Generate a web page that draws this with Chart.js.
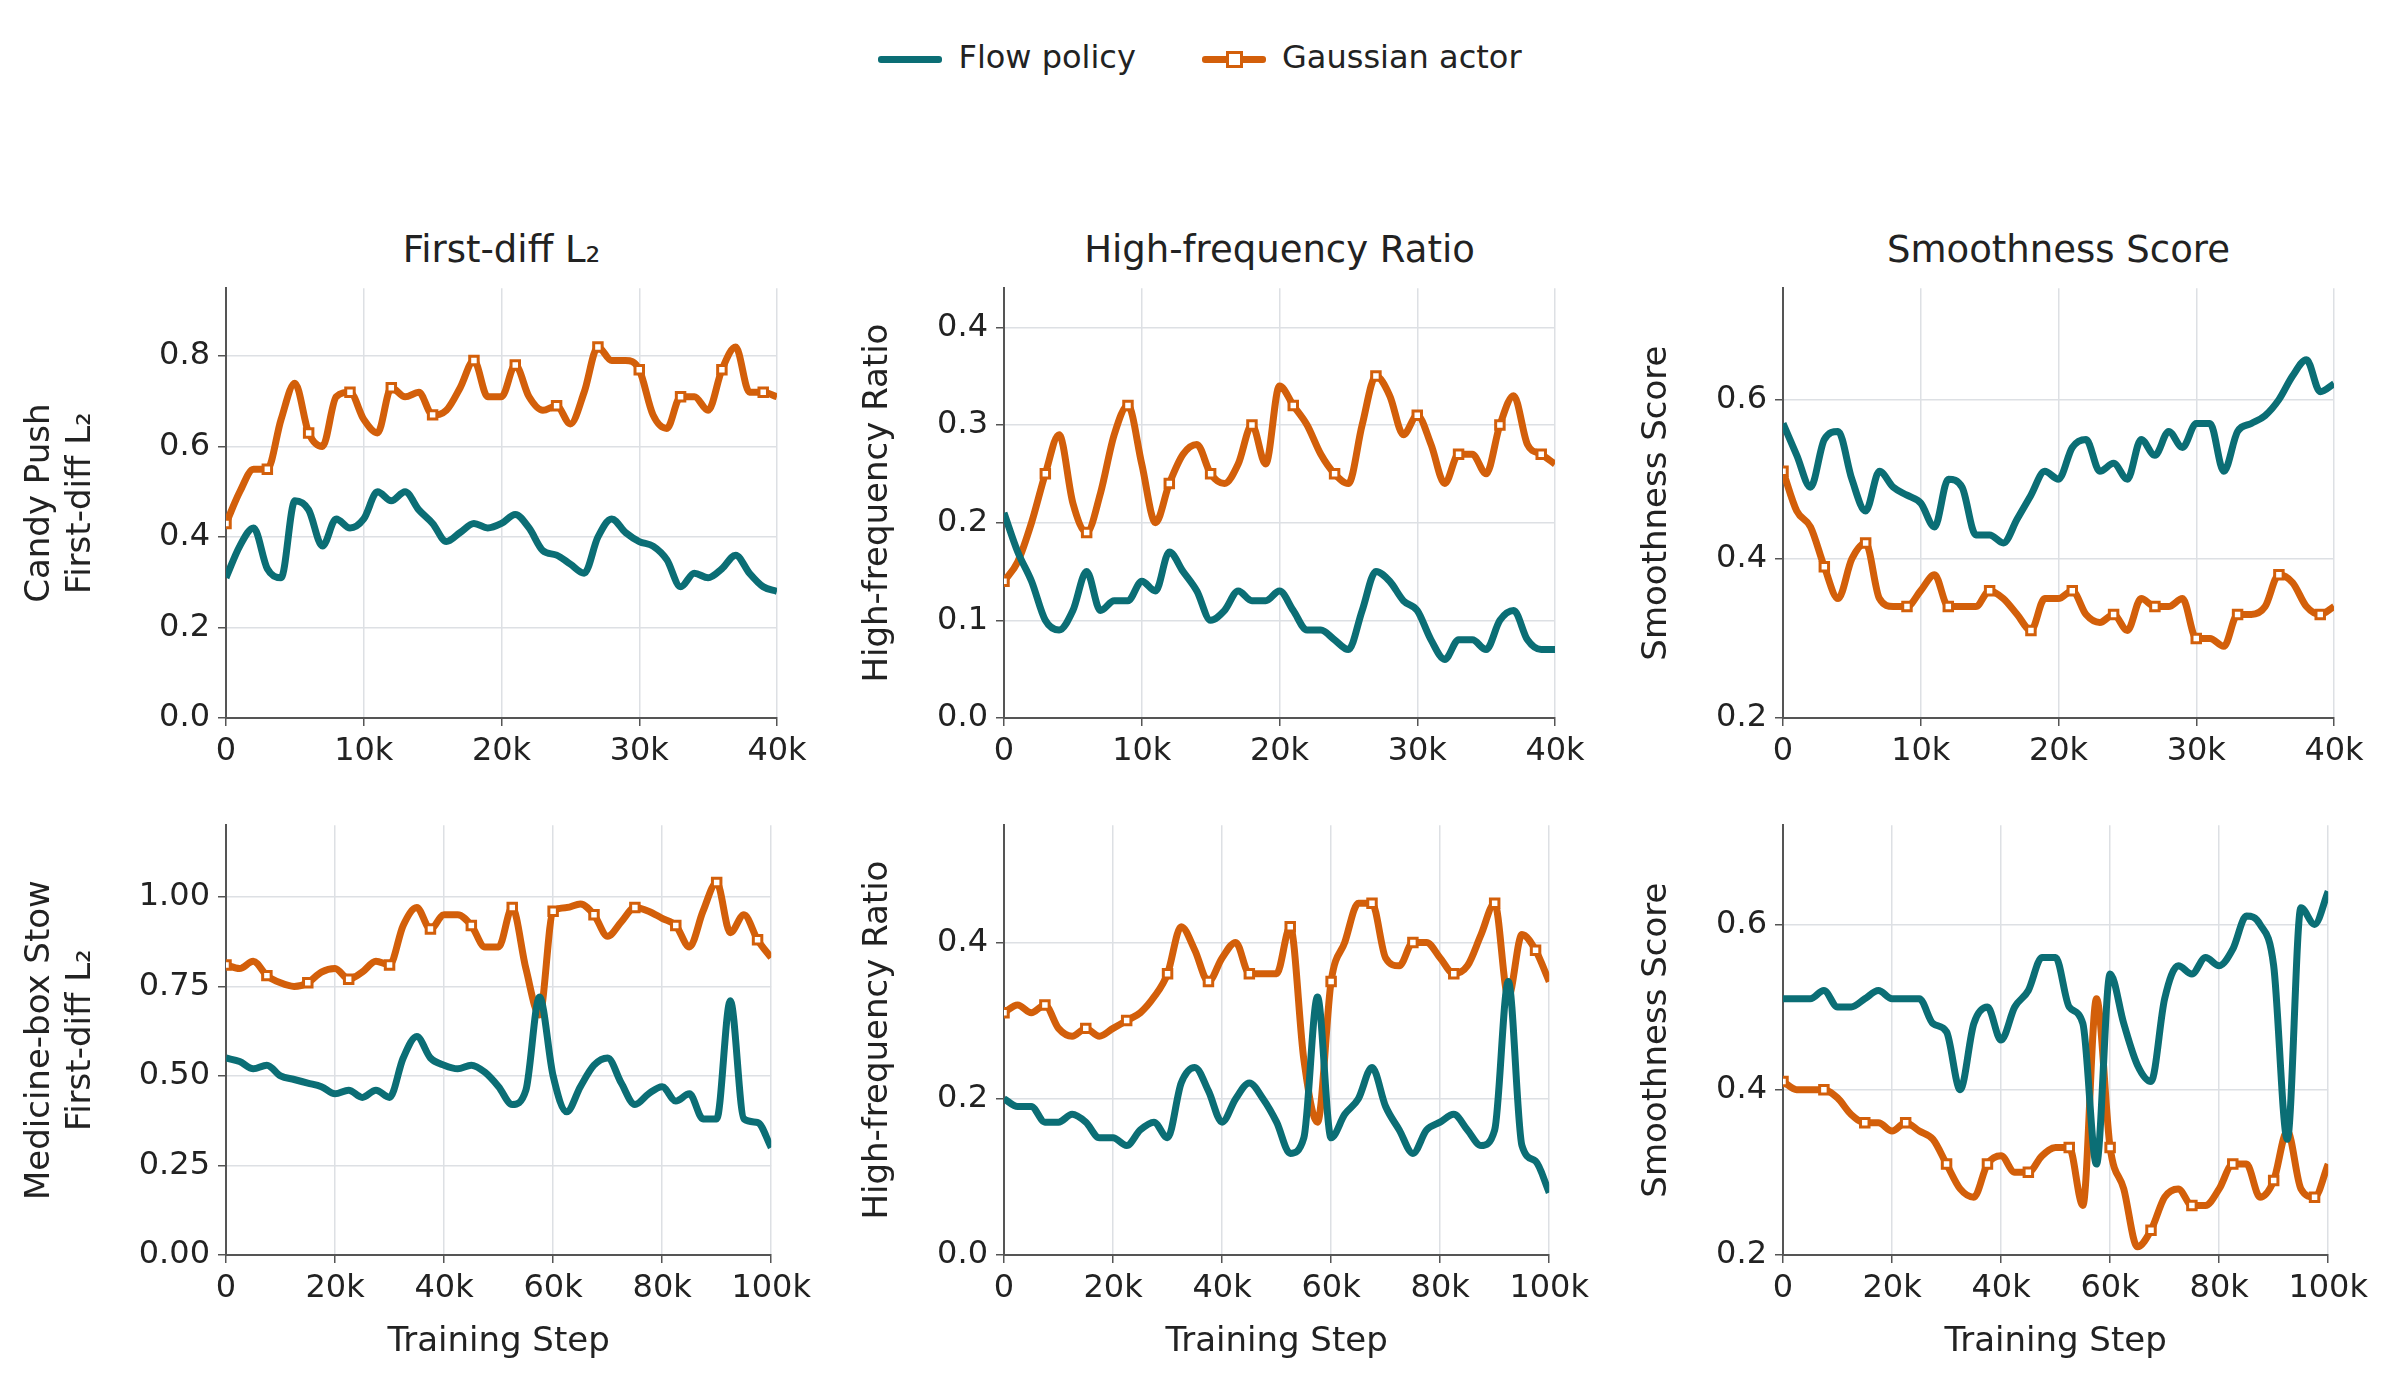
<!DOCTYPE html>
<html><head><meta charset="utf-8">
<script src="https://cdn.jsdelivr.net/npm/chart.js@4"></script>
<style>
body{margin:0;background:#fff;width:2400px;height:1388px;position:relative;font-family:"DejaVu Sans",sans-serif;color:#222}
.box{position:absolute}
.ttl{position:absolute;font-size:37px;text-align:center;width:560px}
#legend{position:absolute;top:36px;left:0;width:2400px;text-align:center;font-size:32px}
.li{display:inline-block;margin:0 28px;vertical-align:middle}
.sw{display:inline-block;width:64px;height:7px;vertical-align:middle;margin-right:16px;position:relative;border-radius:3px}
</style></head><body>
<div id="legend">
<span class="li"><span class="sw" style="background:#0b6e75"></span>Flow policy</span>
<span class="li"><span class="sw" style="background:#d35f0a"><span style="position:absolute;left:24px;top:-5px;width:11px;height:11px;background:#fff;border:3px solid #d35f0a"></span></span>Gaussian actor</span>
</div>
<script>
const stepsTop = Array.from({length:41},(v,i)=>i*1000);
const stepsBot = Array.from({length:41},(v,i)=>i*2500);

const candyL2Flow = [0.31,0.38,0.42,0.33,0.31,0.48,0.46,0.38,0.44,0.42,0.44,0.50,0.48,0.50,0.46,0.43,0.39,0.41,0.43,0.42,0.43,0.45,0.42,0.37,0.36,0.34,0.32,0.40,0.44,0.41,0.39,0.38,0.35,0.29,0.32,0.31,0.33,0.36,0.32,0.29,0.28];
const candyL2Gauss = [0.43,0.50,0.55,0.55,0.66,0.74,0.63,0.60,0.71,0.72,0.66,0.63,0.73,0.71,0.72,0.67,0.68,0.73,0.79,0.71,0.71,0.78,0.71,0.68,0.69,0.65,0.72,0.82,0.79,0.79,0.77,0.67,0.64,0.71,0.71,0.68,0.77,0.82,0.72,0.72,0.71];
const candyHFFlow = [0.21,0.17,0.14,0.10,0.09,0.11,0.15,0.11,0.12,0.12,0.14,0.13,0.17,0.15,0.13,0.10,0.11,0.13,0.12,0.12,0.13,0.11,0.09,0.09,0.08,0.07,0.11,0.15,0.14,0.12,0.11,0.08,0.06,0.08,0.08,0.07,0.10,0.11,0.08,0.07,0.07];
const candyHFGauss = [0.14,0.16,0.20,0.25,0.29,0.22,0.19,0.23,0.29,0.32,0.26,0.20,0.24,0.27,0.28,0.25,0.24,0.26,0.30,0.26,0.34,0.32,0.30,0.27,0.25,0.24,0.30,0.35,0.33,0.29,0.31,0.28,0.24,0.27,0.27,0.25,0.30,0.33,0.28,0.27,0.26];
const candySmFlow = [0.57,0.53,0.49,0.55,0.56,0.50,0.46,0.51,0.49,0.48,0.47,0.44,0.50,0.49,0.43,0.43,0.42,0.45,0.48,0.51,0.50,0.54,0.55,0.51,0.52,0.50,0.55,0.53,0.56,0.54,0.57,0.57,0.51,0.56,0.57,0.58,0.60,0.63,0.65,0.61,0.62];
const candySmGauss = [0.51,0.46,0.44,0.39,0.35,0.40,0.42,0.35,0.34,0.34,0.36,0.38,0.34,0.34,0.34,0.36,0.35,0.33,0.31,0.35,0.35,0.36,0.33,0.32,0.33,0.31,0.35,0.34,0.34,0.35,0.30,0.30,0.29,0.33,0.33,0.34,0.38,0.37,0.34,0.33,0.34];

const medL2Flow = [0.55,0.54,0.52,0.53,0.50,0.49,0.48,0.47,0.45,0.46,0.44,0.46,0.44,0.55,0.61,0.55,0.53,0.52,0.53,0.51,0.47,0.42,0.46,0.72,0.50,0.40,0.47,0.53,0.55,0.48,0.42,0.45,0.47,0.43,0.45,0.38,0.38,0.71,0.38,0.37,0.30];
const medL2Gauss = [0.81,0.80,0.82,0.78,0.76,0.75,0.76,0.79,0.80,0.77,0.79,0.82,0.81,0.92,0.97,0.91,0.95,0.95,0.92,0.86,0.86,0.97,0.80,0.67,0.96,0.97,0.98,0.95,0.89,0.93,0.97,0.96,0.94,0.92,0.86,0.96,1.04,0.90,0.95,0.88,0.83];
const medHFFlow = [0.20,0.19,0.19,0.17,0.17,0.18,0.17,0.15,0.15,0.14,0.16,0.17,0.15,0.22,0.24,0.21,0.17,0.20,0.22,0.20,0.17,0.13,0.15,0.33,0.15,0.18,0.20,0.24,0.19,0.16,0.13,0.16,0.17,0.18,0.16,0.14,0.16,0.35,0.14,0.12,0.08];
const medHFGauss = [0.31,0.32,0.31,0.32,0.29,0.28,0.29,0.28,0.29,0.30,0.31,0.33,0.36,0.42,0.39,0.35,0.38,0.40,0.36,0.36,0.36,0.42,0.25,0.17,0.35,0.40,0.45,0.45,0.38,0.37,0.40,0.40,0.38,0.36,0.37,0.41,0.45,0.33,0.41,0.39,0.35];
const medSmFlow = [0.51,0.51,0.51,0.52,0.50,0.50,0.51,0.52,0.51,0.51,0.51,0.48,0.47,0.40,0.48,0.50,0.46,0.50,0.52,0.56,0.56,0.50,0.48,0.31,0.54,0.48,0.43,0.41,0.51,0.55,0.54,0.56,0.55,0.57,0.61,0.60,0.55,0.34,0.62,0.60,0.64];
const medSmGauss = [0.41,0.40,0.40,0.40,0.39,0.37,0.36,0.36,0.35,0.36,0.35,0.34,0.31,0.28,0.27,0.31,0.32,0.30,0.30,0.32,0.33,0.33,0.26,0.51,0.33,0.28,0.21,0.23,0.27,0.28,0.26,0.26,0.28,0.31,0.31,0.27,0.29,0.35,0.28,0.27,0.31];

const TEAL = '#0b6e75', ORANGE = '#d35f0a';
const colLeft = [226, 1004, 1783], rowTop = [273, 810];
const plotW = 551, plotH = 445;
const yW = [210, 150, 150];
const colTitles = ['First-diff L\u2082', 'High-frequency Ratio', 'Smoothness Score'];

const panels = [
  {r:0,c:0,x:stepsTop,f:candyL2Flow,g:candyL2Gauss,ymin:0,ymax:0.95,yt:[0,0.2,0.4,0.6,0.8],dec:1,yl:['Candy Push','First-diff L\u2082'],xt:[0,10000,20000,30000,40000]},
  {r:0,c:1,x:stepsTop,f:candyHFFlow,g:candyHFGauss,ymin:0,ymax:0.44,yt:[0,0.1,0.2,0.3,0.4],dec:1,yl:'High-frequency Ratio',xt:[0,10000,20000,30000,40000]},
  {r:0,c:2,x:stepsTop,f:candySmFlow,g:candySmGauss,ymin:0.2,ymax:0.74,yt:[0.2,0.4,0.6],dec:1,yl:'Smoothness Score',xt:[0,10000,20000,30000,40000]},
  {r:1,c:0,x:stepsBot,f:medL2Flow,g:medL2Gauss,ymin:0,ymax:1.2,yt:[0,0.25,0.5,0.75,1.0],dec:2,yl:['Medicine-box Stow','First-diff L\u2082'],xt:[0,20000,40000,60000,80000,100000]},
  {r:1,c:1,x:stepsBot,f:medHFFlow,g:medHFGauss,ymin:0,ymax:0.55,yt:[0,0.2,0.4],dec:1,yl:'High-frequency Ratio',xt:[0,20000,40000,60000,80000,100000]},
  {r:1,c:2,x:stepsBot,f:medSmFlow,g:medSmGauss,ymin:0.2,ymax:0.72,yt:[0.2,0.4,0.6],dec:1,yl:'Smoothness Score',xt:[0,20000,40000,60000,80000,100000]},
];

Chart.defaults.font.family = '"DejaVu Sans", sans-serif';
Chart.defaults.color = '#222';

colTitles.forEach((t, c) => {
  const d = document.createElement('div');
  d.className = 'ttl';
  d.style.left = (colLeft[c] + plotW/2 - 280) + 'px';
  d.style.top = '228px';
  d.textContent = t;
  document.body.appendChild(d);
});

for (const p of panels) {
  const padTop = 12, xH = p.r === 1 ? 112 : 75;
  const box = document.createElement('div');
  box.className = 'box';
  const w = yW[p.c] + plotW + 40, h = padTop + plotH + xH;
  box.style.left = (colLeft[p.c] - yW[p.c]) + 'px';
  box.style.top = (rowTop[p.r] - padTop) + 'px';
  box.style.width = w + 'px';
  box.style.height = h + 'px';
  const cv = document.createElement('canvas');
  box.appendChild(cv);
  document.body.appendChild(box);
  const pts = p.x.map((v, i) => (i % 3 === 0 ? 6 : 0));
  new Chart(cv, {
    type: 'line',
    data: {
      labels: p.x,
      datasets: [
        {label:'Flow policy', data:p.x.map((x,i)=>({x:x,y:p.f[i]})), borderColor:TEAL, borderWidth:7, pointRadius:0, tension:0.4, cubicInterpolationMode:'monotone'},
        {label:'Gaussian actor', data:p.x.map((x,i)=>({x:x,y:p.g[i]})), borderColor:ORANGE, borderWidth:7, tension:0.4, cubicInterpolationMode:'monotone',
         pointStyle:'rect', pointRadius:pts, pointBackgroundColor:'#fff', pointBorderColor:ORANGE, pointBorderWidth:3}
      ]
    },
    options: {
      responsive:true, maintainAspectRatio:false, animation:false,
      layout:{padding:{top:padTop, right:40, left:0, bottom:0}},
      plugins:{legend:{display:false}, tooltip:{enabled:false}},
      scales:{
        x:{type:'linear', min:p.x[0], max:p.x[p.x.length-1],
           afterBuildTicks:s=>{s.ticks = p.xt.map(v=>({value:v}));},
           afterFit:s=>{s.height = xH;},
           ticks:{font:{size:32}, color:'#222', maxRotation:0, padding:6, callback:v=>v===0?'0':(v/1000)+'k'},
           grid:{color:'#dde0e4', lineWidth:1.5, drawTicks:true, tickLength:8, tickColor:'#555'},
           border:{color:'#555', width:2},
           title:{display:p.r===1, text:'Training Step', font:{size:34}, color:'#222', padding:{top:2}}},
        y:{min:p.ymin, max:p.ymax,
           afterBuildTicks:s=>{s.ticks = p.yt.map(v=>({value:v}));},
           afterFit:s=>{s.width = yW[p.c];},
           ticks:{font:{size:32}, color:'#222', padding:8, callback:v=>v.toFixed(p.dec)},
           grid:{color:'#dde0e4', lineWidth:1.5, tickLength:8, tickColor:'#555'},
           border:{color:'#555', width:2},
           title:{display:true, text:p.yl, font:{size:34}, color:'#222', padding:{bottom:6}}}
      }
    }
  });
}
</script>
</body></html>
